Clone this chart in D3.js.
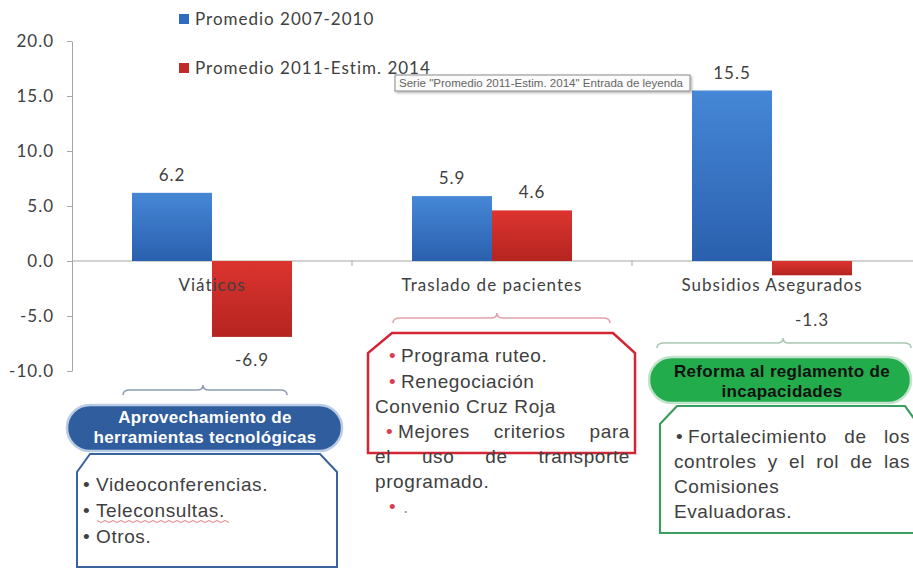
<!DOCTYPE html>
<html><head><meta charset="utf-8">
<script src="https://cdn.jsdelivr.net/npm/d3@7"></script>
<style>body{margin:0;background:#fff}svg{display:block}</style>
</head><body>
<svg id="c" width="913" height="570"></svg>
<script>
const categories = ["Viáticos", "Traslado de pacientes", "Subsidios Asegurados"];
const seriesNames = ["Promedio 2007-2010", "Promedio 2011-Estim. 2014"];
const serie2007 = [6.2, 5.9, 15.5];
const serie2011 = [-6.9, 4.6, -1.3];
const yTicks = [-10, -5, 0, 5, 10, 15, 20];

const boxBlueTitle = ["Aprovechamiento de", "herramientas tecnológicas"];
const boxBlueItems = ["Videoconferencias.", "Teleconsultas.", "Otros."];
const boxGreenTitle = ["Reforma al reglamento de", "incapacidades"];
const tooltipText = 'Serie "Promedio 2011-Estim. 2014" Entrada de leyenda';

const svg = d3.select("#c");
const chartFont = "Lato, 'Open Sans', sans-serif";
const boxFont = "'Liberation Sans', Arial, sans-serif";
const txt = "#404040";
const fmt = v => v.toFixed(1);

const y = d3.scaleLinear().domain([-10, 20]).range([371, 41]);
const x = d3.scaleBand().domain(categories).range([72, 912]).paddingInner(120/280).paddingOuter(60/280);
const xs = d3.scaleBand().domain([0, 1]).range([0, x.bandwidth()]);

const defs = svg.append("defs");
function grad(id, c1, c2) {
  const g = defs.append("linearGradient").attr("id", id).attr("x1", 0).attr("y1", 0).attr("x2", 0).attr("y2", 1);
  g.append("stop").attr("offset", 0).attr("stop-color", c1);
  g.append("stop").attr("offset", 1).attr("stop-color", c2);
}
grad("gBlue", "#4587d6", "#2a60ae");
grad("gRed", "#dc342f", "#b52420");
const fills = ["url(#gBlue)", "url(#gRed)"];
const legendColors = ["#2f6cbf", "#c0282a"];
const f = defs.append("filter").attr("id", "sh").attr("x", "-5%").attr("y", "-20%").attr("width", "110%").attr("height", "160%");
f.append("feDropShadow").attr("dx", 1.5).attr("dy", 1.5).attr("stdDeviation", 1).attr("flood-color", "#000").attr("flood-opacity", 0.3);

function chartText(sel) {
  return sel.attr("font-family", chartFont).attr("font-size", 17).attr("letter-spacing", 1).attr("fill", txt);
}

// Y axis
const yAxis = svg.append("g").attr("transform", "translate(72,0)")
  .call(d3.axisLeft(y).tickValues(yTicks).tickFormat(fmt).tickSize(5).tickSizeOuter(0).tickPadding(13));
yAxis.select(".domain").attr("stroke", "#a6a6a6");
yAxis.selectAll(".tick line").attr("stroke", "#a6a6a6");
chartText(yAxis.selectAll("text"));

// zero line & category ticks
svg.append("line").attr("x1", 72).attr("x2", 913).attr("y1", y(0)).attr("y2", y(0)).attr("stroke", "#a6a6a6");
const bounds = categories.slice(1).map(c => x(c) - x.step() * x.paddingInner() / 2);
svg.selectAll(".ct").data(bounds).join("line")
  .attr("x1", d => d).attr("x2", d => d).attr("y1", y(0)).attr("y2", y(0) + 5).attr("stroke", "#a6a6a6");

// bars
const series = [serie2007, serie2011];
const flat = [];
series.forEach((s, si) => s.forEach((v, i) => flat.push({cat: categories[i], si, v})));
svg.selectAll(".bar").data(flat).join("rect")
  .attr("x", d => x(d.cat) + xs(d.si)).attr("width", xs.bandwidth())
  .attr("y", d => y(Math.max(0, d.v))).attr("height", d => Math.abs(y(d.v) - y(0)))
  .attr("fill", d => fills[d.si]);

// category labels
chartText(svg.selectAll(".cl").data(categories).join("text")
  .attr("x", d => x(d) + x.bandwidth() / 2).attr("y", y(0) + 30)
  .attr("text-anchor", "middle").text(d => d));

// value labels (extra nudge for the last negative label, as in the reference)
const nudge = {"Subsidios Asegurados|1": 22};
chartText(svg.selectAll(".vl").data(flat).join("text")
  .attr("x", d => x(d.cat) + xs(d.si) + xs.bandwidth() / 2)
  .attr("y", d => (d.v >= 0 ? y(d.v) - 12 : y(d.v) + 29) + (nudge[d.cat + "|" + d.si] || 0))
  .attr("text-anchor", "middle").text(d => fmt(d.v)));

// legend
const lg = svg.append("g");
seriesNames.forEach((n, i) => {
  const yy = 19 + i * 49;
  lg.append("rect").attr("x", 179).attr("y", yy - 5).attr("width", 10).attr("height", 10).attr("fill", legendColors[i]);
  chartText(lg.append("text").attr("x", 195).attr("y", yy + 6).text(n));
});

// tooltip
svg.append("rect").attr("x", 395).attr("y", 75).attr("width", 295).attr("height", 16)
  .attr("fill", "#fbfbfb").attr("stroke", "#8a8a8a").attr("filter", "url(#sh)");
svg.append("text").attr("x", 399).attr("y", 87).attr("font-family", boxFont).attr("font-size", 10)
  .attr("textLength", 284).attr("lengthAdjust", "spacingAndGlyphs").attr("fill", "#666").text(tooltipText);

// braces
function brace(x0, x1, cx, yy, col) {
  svg.append("path").attr("fill", "none").attr("stroke", col).attr("stroke-width", 1.6)
    .attr("d", `M${x0},${yy+5} Q${x0},${yy} ${x0+7},${yy} L${cx-6},${yy} Q${cx},${yy} ${cx},${yy-5} Q${cx},${yy} ${cx+6},${yy} L${x1-7},${yy} Q${x1},${yy} ${x1},${yy+5}`);
}
brace(123, 287, 203, 390, "#8e9db4");
brace(393, 610, 497, 318, "#e4a2aa");
brace(657, 911, 783, 343, "#a9c9b2");

// text helpers
const BS = 19, LS = 0.6;
function line(xx, yy, s, opt = {}) {
  return svg.append("text").attr("x", xx).attr("y", yy).attr("font-family", boxFont)
    .attr("font-size", opt.size || BS).attr("letter-spacing", opt.ls != null ? opt.ls : LS)
    .attr("fill", opt.fill || txt).attr("font-weight", opt.weight || "normal").text(s);
}
function justify(x0, x1, yy, s) {
  const words = s.split(" ");
  const nodes = words.map(w => line(0, yy, w));
  const ws = nodes.map(n => n.node().getComputedTextLength());
  const gap = (x1 - x0 - d3.sum(ws)) / (words.length - 1);
  let cx = x0;
  nodes.forEach((n, i) => { n.attr("x", cx); cx += ws[i] + gap; });
}
function bullet(xx, yy, col) {
  svg.append("text").attr("x", xx).attr("y", yy).attr("font-family", boxFont).attr("font-size", BS).attr("fill", col).text("•");
}

// blue box
svg.append("path").attr("d", "M90,454 L320,454 L337,472 L337,567 L77,567 L77,472 Z")
  .attr("fill", "#fff").attr("stroke", "#3a629c").attr("stroke-width", 2);
svg.append("rect").attr("x", 67).attr("y", 405).attr("width", 275).attr("height", 46).attr("rx", 23)
  .attr("fill", "#2f5d9d").attr("stroke", "#b9cbe5").attr("stroke-width", 2.5);
boxBlueTitle.forEach((t, i) => line(205, 423 + i * 20, t, {size: 17, ls: 0.3, weight: "bold", fill: "#fff"}).attr("text-anchor", "middle"));
boxBlueItems.forEach((t, i) => { bullet(83, 491 + i * 26, txt); line(96, 491 + i * 26, t); });
svg.append("path").attr("fill", "none").attr("stroke", "#e05a5a").attr("stroke-width", 0.8)
  .attr("d", d3.range(97, 232, 4).map((v, i) => (i ? "L" : "M") + v + "," + (521 + (i % 2 ? 1.5 : -0.5))).join(" "));

// red box
svg.append("path").attr("d", "M392,333 L613,333 L635,353 L635,453 L368,453 L368,353 Z")
  .attr("fill", "#fff").attr("stroke", "#d42535").attr("stroke-width", 2.5);
bullet(389, 362, "#d84050"); line(401, 362, "Programa ruteo.");
bullet(389, 388, "#d84050"); line(401, 388, "Renegociación");
line(375, 413, "Convenio Cruz Roja");
bullet(386, 438, "#d84050"); justify(398, 630, 438, "Mejores criterios para");
justify(375, 630, 463, "el uso de transporte");
line(375, 488, "programado.");
bullet(389, 513, "#d84050"); line(403, 513, ".", {fill: "#999"});

// green box
svg.append("path").attr("d", "M677,406 L905,406 L918,424 L918,533 L660,533 L660,424 Z")
  .attr("fill", "#fff").attr("stroke", "#3c9e5e").attr("stroke-width", 2.2);
svg.append("rect").attr("x", 649).attr("y", 357).attr("width", 262).attr("height", 46).attr("rx", 23)
  .attr("fill", "#22ac4c").attr("stroke", "#c4e3cc").attr("stroke-width", 2.5);
boxGreenTitle.forEach((t, i) => line(782, 377 + i * 20, t, {size: 17, ls: 0.3, weight: "bold", fill: "#111"}).attr("text-anchor", "middle"));
bullet(676, 443, txt); justify(688, 910, 443, "Fortalecimiento de los");
justify(674, 910, 468, "controles y el rol de las");
line(674, 493, "Comisiones");
line(674, 518, "Evaluadoras.");
</script>
</body></html>
